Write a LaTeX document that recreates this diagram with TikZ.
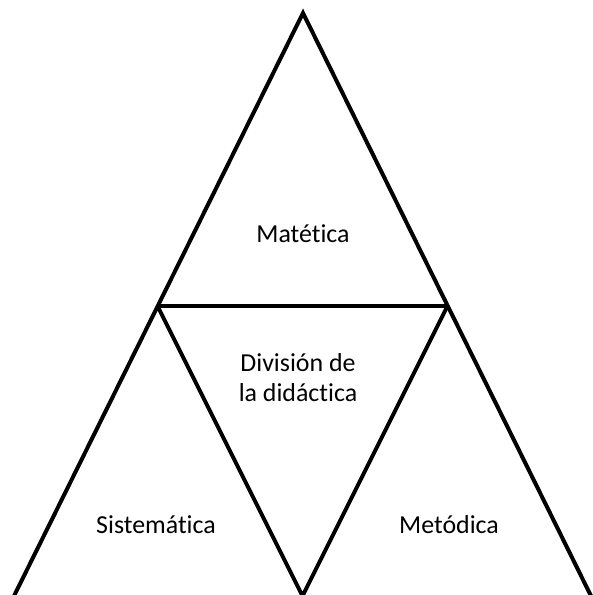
\documentclass[tikz,border=0pt]{standalone}
\usepackage{fontspec}
\setmainfont[RawFeature={-liga;-clig;-dlig}]{Carlito}
\begin{document}
\begin{tikzpicture}[x=1bp,y=-1bp,
  edge/.style={line width=4bp,line join=miter,line cap=butt},
  lbl/.style={font=\fontsize{26}{30}\selectfont,inner sep=0pt,align=center}]
\useasboundingbox (0,0) rectangle (593,595);
\coordinate (apex) at (303,13);
\coordinate (bl) at (13,598);
\coordinate (br) at (592,598);
\coordinate (ml) at (157.5,306);
\coordinate (mr) at (447.5,306);
\coordinate (bm) at (302.5,596);
\draw[edge] (bl) -- (apex) -- (br);
\draw[edge] (ml) -- (mr);
\draw[edge] (ml) -- (bm) -- (mr);
\node[lbl,anchor=base] (mat) at (303,242) {Matética};
\node[lbl,anchor=base] (sis) at (156,533) {Sistemática};
\node[lbl,anchor=base] (met) at (449,533) {Metódica};
\node[lbl,anchor=base] (div) at (298,401) {División de\\la didáctica};
\end{tikzpicture}
\end{document}
